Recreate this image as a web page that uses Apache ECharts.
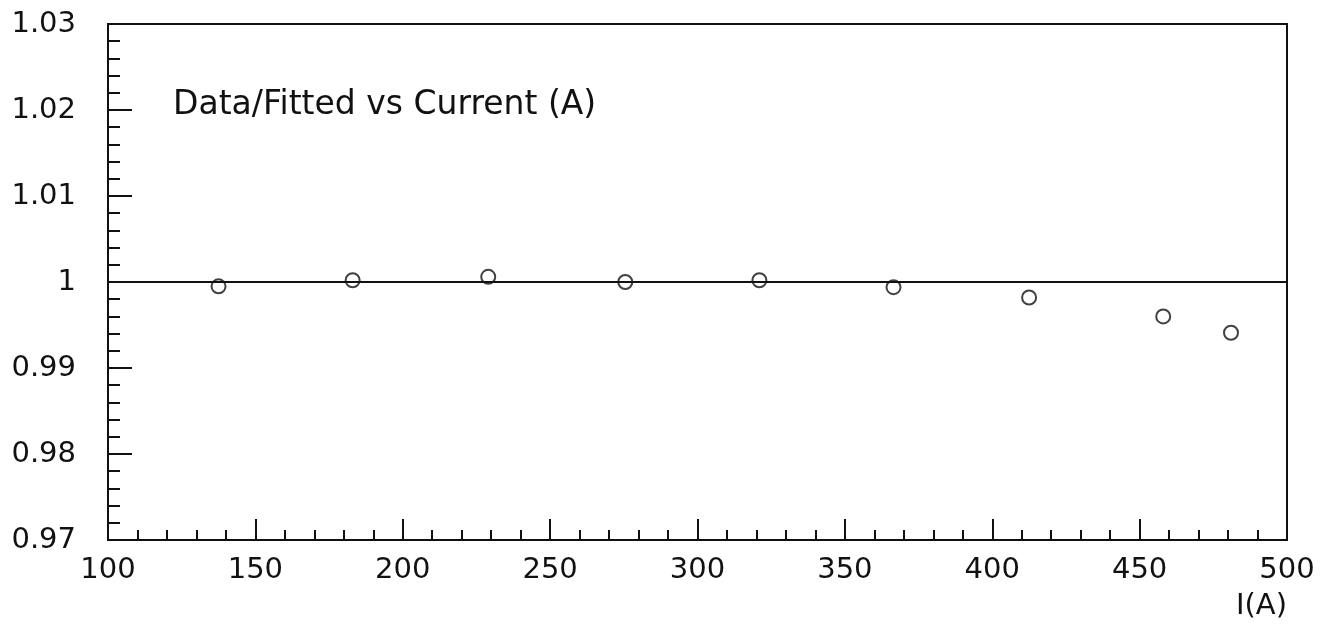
<!DOCTYPE html>
<html>
<head>
<meta charset="utf-8">
<script src="https://cdn.jsdelivr.net/npm/echarts@6/dist/echarts.min.js"></script>
<style>
  html, body { margin: 0; padding: 0; background: #fff; }
  #chart { width: 1332px; height: 630px; }
</style>
</head>
<body>
<div id="chart"></div>
<script>
// Measured points: current (A) and data/fit ratio
const currents = [137.5, 183, 229, 275.5, 321, 366.5, 412.5, 458, 481];
const ratios   = [0.9995, 1.0002, 1.0006, 1.0000, 1.0002, 0.9994, 0.9982, 0.9960, 0.9941];
const unityLevel = 1;

const xRange = { min: 100, max: 500, step: 50 };
const yRange = { min: 0.97, max: 1.03, step: 0.01 };

const titleText = 'Data/Fitted vs Current (A)';
const xAxisName = 'I(A)';

const ink = '#111111';
const font = 'DejaVu Sans';

const chart = echarts.init(document.getElementById('chart'), null, { renderer: 'canvas' });

chart.setOption({
  backgroundColor: '#ffffff',
  animation: false,
  title: {
    text: titleText,
    left: 168,
    top: 84,
    textStyle: { fontFamily: font, fontSize: 33, fontWeight: 'normal', color: ink }
  },
  grid: {
    left: 108, right: 45, top: 24, bottom: 90,
    show: true, borderColor: ink, borderWidth: 2, backgroundColor: 'transparent'
  },
  xAxis: {
    type: 'value',
    min: xRange.min, max: xRange.max, interval: xRange.step,
    axisLine: { show: true, lineStyle: { color: ink, width: 2 } },
    axisTick: { show: true, inside: true, length: 21, lineStyle: { color: ink, width: 2 } },
    minorTick: { show: true, splitNumber: 5, length: 10, lineStyle: { color: ink, width: 2 } },
    splitLine: { show: false },
    axisLabel: {
      color: ink, fontFamily: font, fontSize: 29, margin: 16,
      formatter: v => String(Math.round(v))
    }
  },
  yAxis: {
    type: 'value',
    min: yRange.min, max: yRange.max, interval: yRange.step,
    axisLine: { show: true, lineStyle: { color: ink, width: 2 } },
    axisTick: { show: true, inside: true, length: 24, lineStyle: { color: ink, width: 2 } },
    minorTick: { show: true, splitNumber: 5, length: 12, lineStyle: { color: ink, width: 2 } },
    splitLine: { show: false },
    axisLabel: {
      color: ink, fontFamily: font, fontSize: 29, margin: 32,
      formatter: v => String(parseFloat(v.toFixed(2)))
    }
  },
  graphic: [{
    type: 'text',
    right: 45,
    top: 592,
    style: { text: xAxisName, fontFamily: font, fontSize: 29, fill: ink }
  }],
  series: [{
    type: 'scatter',
    data: currents.map((c, i) => [c, ratios[i]]),
    symbol: 'circle',
    symbolSize: 14,
    itemStyle: { color: 'rgba(255,255,255,0)', borderColor: ink, borderWidth: 2 },
    markLine: {
      silent: true,
      symbol: 'none',
      label: { show: false },
      lineStyle: { color: ink, width: 2, type: 'solid' },
      data: [{ yAxis: unityLevel }]
    }
  }]
});
</script>
</body>
</html>
